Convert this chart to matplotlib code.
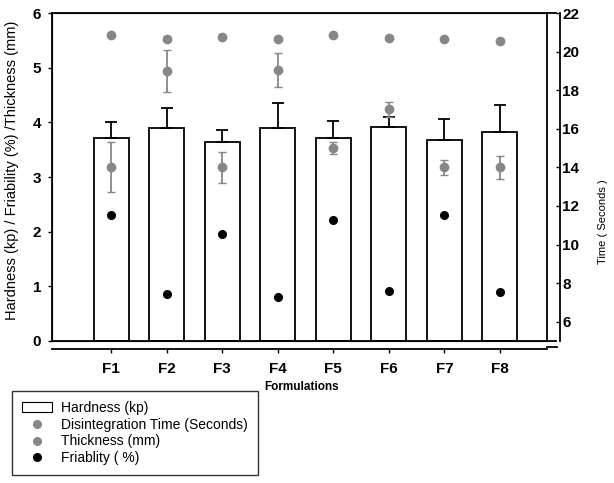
import numpy as np
import matplotlib.pyplot as plt
from matplotlib.patches import Patch
from matplotlib.lines import Line2D

plt.rcParams['font.family'] = ['Liberation Sans', 'DejaVu Sans']

formulations = ['F1', 'F2', 'F3', 'F4', 'F5', 'F6', 'F7', 'F8']

# hardness (kp), bars with upper error only
hardness = [3.71, 3.89, 3.64, 3.89, 3.71, 3.92, 3.67, 3.82]
hardness_err = [0.29, 0.37, 0.22, 0.47, 0.31, 0.18, 0.40, 0.49]

# thickness (mm), left axis
thickness = [5.59, 5.52, 5.56, 5.53, 5.59, 5.54, 5.52, 5.48]
thickness_err = [0.03, 0.04, 0.02, 0.02, 0.03, 0.02, 0.02, 0.02]

# friability (%), left axis
friability = [2.30, 0.86, 1.96, 0.80, 2.21, 0.91, 2.30, 0.90]

# disintegration time (s), right axis
dis_time = [14.0, 19.0, 14.0, 19.05, 15.0, 17.0, 14.0, 14.0]
dis_time_err = [1.3, 1.1, 0.8, 0.9, 0.3, 0.4, 0.4, 0.6]

grey = '#878787'

fig = plt.figure(figsize=(6.14, 4.83), dpi=100)
ax = fig.add_axes([0.085, 0.294, 0.806, 0.679])
x = np.arange(len(formulations))

ax.bar(x, hardness, width=0.63, color='white', edgecolor='black', linewidth=1.3, zorder=2)
ax.errorbar(x, hardness, yerr=[np.zeros(len(x)), hardness_err], fmt='none',
            ecolor='black', elinewidth=1.3, capsize=4, capthick=1.3, zorder=3)
ax.errorbar(x, thickness, yerr=thickness_err, fmt='o', color=grey, ms=6,
            ecolor=grey, elinewidth=1.3, capsize=3, zorder=4)
ax.plot(x, friability, 'o', color='black', ms=5.5, zorder=4)
ax.axhline(0, color='black', lw=1.3, zorder=5)

ax.set_xlim(-1.06, 7.85)
ax.set_ylim(0, 6)
ax.set_xticks(x, formulations)
ax.set_yticks(range(7))
ax.spines['bottom'].set_position(('outward', 6))
for s in ax.spines.values():
    s.set_linewidth(1.3)
ax.tick_params(axis='x', direction='out', length=3, width=1, pad=6, labelsize=11)
ax.tick_params(axis='y', direction='out', length=3, width=1, pad=5, labelsize=11)
# extend the offset x-axis line under the right spine
ax.plot([1, 1 + 10 / 495], [-6 / 328, -6 / 328], transform=ax.transAxes,
        color='black', lw=1.3, clip_on=False)

fig.text(12 / 614, 1 - 170 / 483, 'Hardness (kp) / Friability (%) /Thickness (mm)',
         rotation=90, ha='center', va='center', fontsize=10.5)
fig.text(302 / 614, 1 - 387 / 483, 'Formulations', ha='center', va='center',
         fontweight='bold', fontsize=8.5)

ax2 = ax.twinx()
ax2.errorbar(x, dis_time, yerr=dis_time_err, fmt='o', color=grey, ms=6,
             ecolor=grey, elinewidth=1.3, capsize=3, zorder=4)
ax2.set_ylim(5, 22)
ax2.set_yticks(range(6, 23, 2))
ax2.spines['right'].set_position(('outward', 9))
ax2.spines['right'].set_linewidth(1.3)
ax2.tick_params(axis='y', direction='in', length=3, width=1, pad=2, labelsize=11)
fig.text(603 / 614, 1 - 222 / 483, 'Time ( Seconds )', rotation=90,
         ha='center', va='center', fontsize=8)
# close the small gap between the frame and the offset right spine
ax2.plot([1, 1 + 9 / 495], [1, 1], transform=ax2.transAxes, color='black',
         lw=1.3, clip_on=False)
ax2.plot([1, 1 + 9 / 495], [0, 0], transform=ax2.transAxes, color='black',
         lw=1.3, clip_on=False)

for lbl in ax.get_xticklabels() + ax.get_yticklabels() + ax2.get_yticklabels():
    lbl.set_fontweight('bold')

handles = [
    Patch(facecolor='white', edgecolor='black', linewidth=0.8),
    Line2D([], [], ls='none', marker='o', color=grey, ms=5.5),
    Line2D([], [], ls='none', marker='o', color=grey, ms=5.5),
    Line2D([], [], ls='none', marker='o', color='black', ms=5.5),
]
labels = ['Hardness (kp)', 'Disintegration Time (Seconds)', 'Thickness (mm)', 'Friablity ( %)']
leg = fig.legend(handles, labels, loc='lower left', bbox_to_anchor=(12 / 614, 8 / 483),
                 borderaxespad=0, fontsize=10, frameon=True, fancybox=False,
                 edgecolor='black', labelspacing=0.2, handlelength=2.2,
                 handletextpad=0.65, borderpad=0.7)
leg.get_frame().set_linewidth(1)

fig.savefig('out.png', dpi=100)
